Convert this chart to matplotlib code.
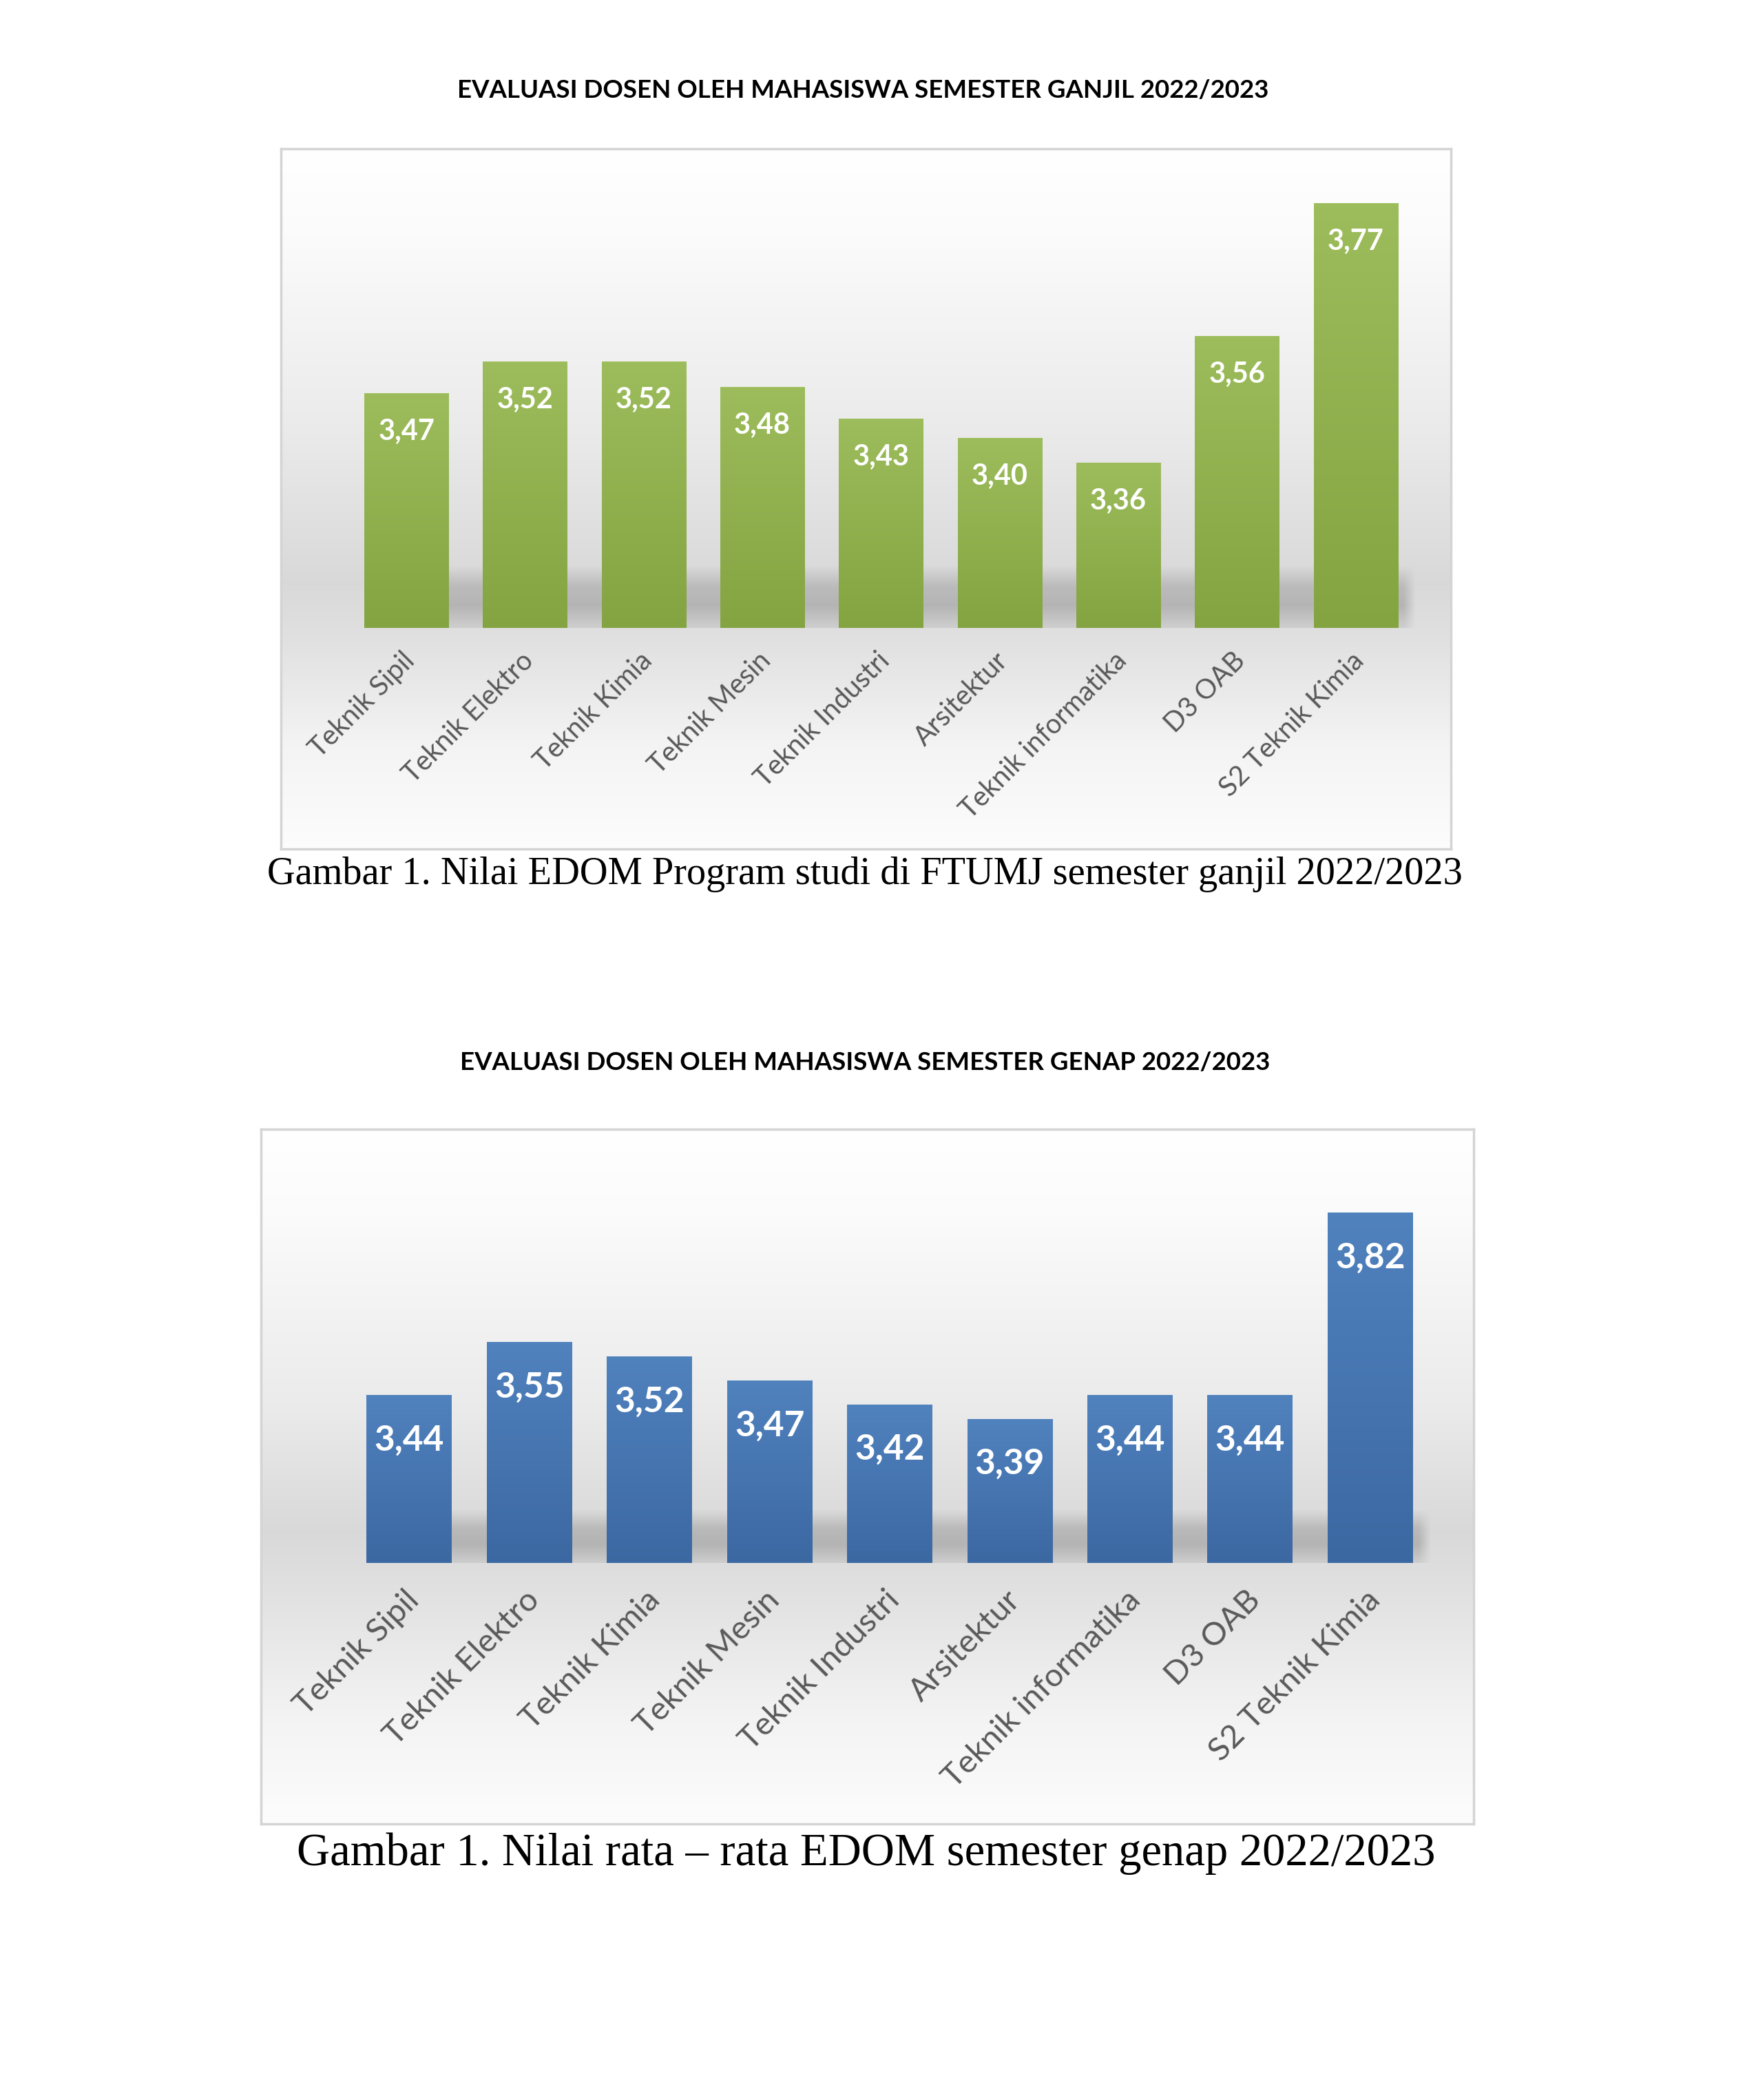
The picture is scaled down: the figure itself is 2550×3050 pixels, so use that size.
import numpy as np
import matplotlib.pyplot as plt
from matplotlib.transforms import ScaledTranslation

# data
prodi = ['Teknik Sipil', 'Teknik Elektro', 'Teknik Kimia', 'Teknik Mesin', 'Teknik Industri',
         'Arsitektur', 'Teknik informatika', 'D3 OAB', 'S2 Teknik Kimia']
nilai_ganjil = [3.47, 3.52, 3.52, 3.48, 3.43, 3.40, 3.36, 3.56, 3.77]
nilai_genap = [3.44, 3.55, 3.52, 3.47, 3.42, 3.39, 3.44, 3.44, 3.82]

judul1 = 'EVALUASI DOSEN OLEH MAHASISWA SEMESTER GANJIL 2022/2023'
judul2 = 'EVALUASI DOSEN OLEH MAHASISWA SEMESTER GENAP 2022/2023'
caption1 = 'Gambar 1. Nilai EDOM Program studi di FTUMJ semester ganjil 2022/2023'
caption2 = 'Gambar 1. Nilai rata \u2013 rata EDOM semester genap 2022/2023'

W, H = 2550, 3050
fig = plt.figure(figsize=(W / 100, H / 100), dpi=100)
fig.patch.set_facecolor('white')


def rect(l, t, r, b):
    return [l / W, 1 - b / H, (r - l) / W, (b - t) / H]


def frame_bg(box, peak):
    ax = fig.add_axes(rect(*box))
    t = np.linspace(0, 1, 400)
    g = np.interp(t, [0, 0.12, 0.40, peak, peak + 0.08, 0.85, 1.0],
                  [1.0, 0.985, 0.92, 0.85, 0.88, 0.955, 0.99])
    img = np.dstack([g] * 3).reshape(400, 1, 3).repeat(2, axis=1)
    ax.imshow(img, extent=(0, 1, 0, 1), aspect='auto', origin='upper', zorder=0)
    ax.set_xlim(0, 1)
    ax.set_ylim(0, 1)
    ax.set_xticks([])
    ax.set_yticks([])
    for s in ax.spines.values():
        s.set_color('#d4d4d4')
        s.set_linewidth(2.5)
    return ax


def chart(box, vals, ymin, ymax, top_c, bot_c, lblsize, valsize, valoff, tickpad, tickdx):
    ax = fig.add_axes(rect(*box))
    ax.set_facecolor('none')
    x = np.arange(len(vals))
    bars = ax.bar(x, np.array(vals) - ymin, bottom=ymin, width=0.71, color=bot_c, zorder=3)
    # gradasi di tiap batang
    for b in bars:
        n = 100
        c = np.linspace(0, 1, n).reshape(n, 1, 1)
        img = np.array(top_c).reshape(1, 1, 3) * (1 - c) + np.array(bot_c).reshape(1, 1, 3) * c
        img = img.repeat(2, axis=1)
        x0, y0 = b.get_x(), b.get_y()
        ax.imshow(img, extent=(x0, x0 + b.get_width(), y0, y0 + b.get_height()),
                  aspect='auto', origin='upper', zorder=4)
    # bayangan di lantai
    sh_h = (ymax - ymin) * 0.14
    ny, nx = 80, 600
    yy = np.linspace(0, 1, ny).reshape(ny, 1)
    xx = np.linspace(0, 1, nx).reshape(1, nx)
    ay = np.interp(yy, [0, 0.35, 0.65, 1.0], [0.0, 0.24, 0.30, 0.12])
    ax_ = np.clip(np.minimum(xx / 0.01, (1 - xx) / 0.012), 0, 1)
    sh = np.zeros((ny, nx, 4))
    sh[..., :3] = 0.35
    sh[..., 3] = ay * ax_
    ax.imshow(sh, extent=(bars[0].get_x() + 0.3, bars[-1].get_x() + bars[-1].get_width() + 0.15,
                          ymin, ymin + sh_h), aspect='auto', origin='upper', zorder=2)
    for b, v in zip(bars, vals):
        ax.annotate(f'{v:.2f}'.replace('.', ','), (b.get_x() + b.get_width() / 2, v),
                    xytext=(0, -valoff), textcoords='offset points', ha='center', va='center',
                    color='white', fontsize=valsize, fontweight='bold', family='Lato', zorder=5)
    ax.set_xlim(-0.5, len(vals) - 0.5)
    ax.set_ylim(ymin, ymax)
    ax.set_yticks([])
    ax.set_xticks(x)
    ax.set_xticklabels(prodi, rotation=45, ha='right', va='center', rotation_mode='anchor',
                       fontsize=lblsize, color='#595959', family='Lato')
    ax.tick_params(axis='x', length=0, pad=tickpad)
    for lbl in ax.get_xticklabels():
        lbl.set_transform(lbl.get_transform() + ScaledTranslation(tickdx / 100, 0, fig.dpi_scale_trans))
    for s in ax.spines.values():
        s.set_visible(False)
    return ax


green_top = (157 / 255, 189 / 255, 92 / 255)
green_bot = (132 / 255, 164 / 255, 66 / 255)
blue_top = (80 / 255, 130 / 255, 190 / 255)
blue_bot = (60 / 255, 104 / 255, 162 / 255)

# grafik 1
frame_bg((408, 216, 2107, 1233), 0.62)
chart((504, 268, 2055, 912), nilai_ganjil, 3.10, 3.80, green_top, green_bot,
      lblsize=28.5, valsize=30, valoff=40, tickpad=30, tickdx=6)
fig.text(1253 / W, 1 - 131 / H, judul1, ha='center', va='center', fontsize=26.4,
         fontweight='bold', family='Lato', color='black')
fig.text(1256 / W, 1 - 1270 / H, caption1, ha='center', va='center', fontsize=40.6,
         family='Liberation Serif', color='black')

# grafik 2
frame_bg((379, 1640, 2140, 2649), 0.58)
chart((507, 1713, 2077, 2270), nilai_genap, 3.09, 3.89, blue_top, blue_bot,
      lblsize=33.8, valsize=37, valoff=47, tickpad=34, tickdx=8)
fig.text(1256 / W, 1 - 1544 / H, judul2, ha='center', va='center', fontsize=26.4,
         fontweight='bold', family='Lato', color='black')
fig.text(1258 / W, 1 - 2692 / H, caption2, ha='center', va='center', fontsize=48,
         family='Liberation Serif', color='black')

fig.savefig('out.png', dpi=100)
